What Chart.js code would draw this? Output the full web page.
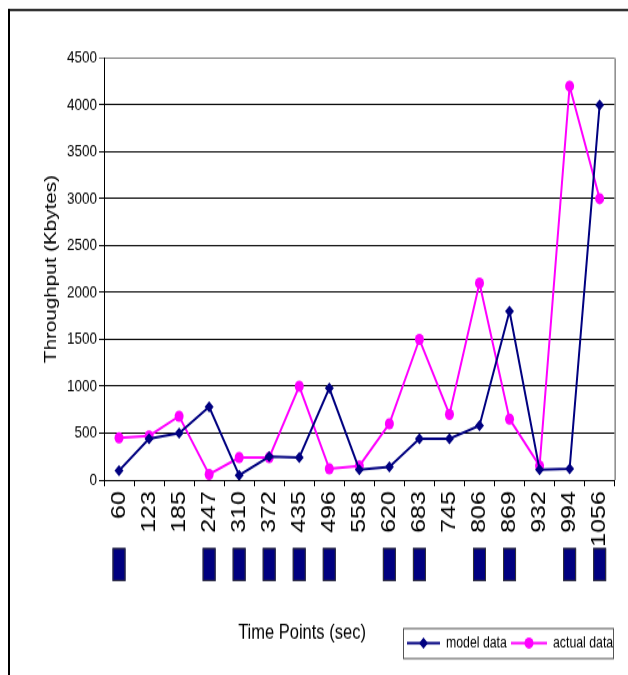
<!DOCTYPE html>
<html>
<head>
<meta charset="utf-8">
<title>Throughput over time</title>
<script src="https://cdn.jsdelivr.net/npm/chart.js@4/dist/chart.umd.min.js"></script>
<style>
  html, body { margin: 0; padding: 0; background: #fff; overflow: hidden; }
  #page { width: 628px; height: 675px; position: relative; overflow: hidden; }
  #stage { position: absolute; left: 0; top: 0; width: 628px; height: 540px; transform: scaleY(1.25); transform-origin: 0 0; }
  #chart { display: block; }
</style>
</head>
<body>
<div id="page"><div id="stage"><canvas id="chart" width="628" height="540"></canvas></div></div>
<script>
// Sample times (sec) along the x axis
const timePoints = ['60', '123', '185', '247', '310', '372', '435', '496', '558',
                    '620', '683', '745', '806', '869', '932', '994', '1056'];

// Throughput in Kbytes
const modelData  = [100, 440, 500, 780, 50, 250, 240, 980, 110,
                    140, 440, 440, 580, 1800, 110, 120, 4000];
const actualData = [450, 470, 680, 60, 240, 240, 1000, 120, 150,
                    600, 1500, 700, 2100, 650, 150, 4200, 3000];

// Time slots flagged with a block under the axis (1 = flagged)
const activeSlots = [1, 0, 0, 1, 1, 1, 1, 1, 0, 1, 1, 0, 1, 1, 0, 1, 1];

// Y axis range
const yMin = 0, yMax = 4500, yStep = 500;

const FONT = "'Liberation Sans', Arial, Helvetica, sans-serif";
const NAVY = '#000080';
const MAGENTA = '#FF00FF';

function drawMarker(ctx, style, color, x, y, r) {
  ctx.fillStyle = color;
  ctx.beginPath();
  if (style === 'rectRot') {
    ctx.moveTo(x - r, y); ctx.lineTo(x, y - r); ctx.lineTo(x + r, y); ctx.lineTo(x, y + r);
    ctx.closePath();
  } else {
    ctx.arc(x, y, r, 0, Math.PI * 2);
  }
  ctx.fill();
}

const decor = {
  id: 'decor',
  beforeDraw(chart) {
    const ctx = chart.ctx;
    ctx.save();
    ctx.fillStyle = '#fff';
    ctx.fillRect(0, 0, chart.width, chart.height);
    // page frame (top and left edges)
    ctx.fillStyle = '#000';
    ctx.fillRect(8, 7.2, chart.width, 1.6);
    ctx.fillRect(8, 7.2, 2, chart.height);
    ctx.restore();
  },
  afterDraw(chart) {
    const { ctx, chartArea } = chart;
    const xs = chart.scales.x;
    ctx.save();

    // right edge of the plot area
    ctx.strokeStyle = '#888';
    ctx.lineWidth = 1.5;
    ctx.beginPath();
    ctx.moveTo(chartArea.right + 0.5, chartArea.top);
    ctx.lineTo(chartArea.right + 0.5, chartArea.bottom);
    ctx.stroke();

    // flagged time slots
    const blockTop = chartArea.bottom + 54.4, blockH = 26.4, blockW = 13;
    activeSlots.forEach((on, i) => {
      if (!on) return;
      const cx = xs.getPixelForValue(i);
      ctx.fillStyle = NAVY;
      ctx.fillRect(cx - blockW / 2, blockTop, blockW, blockH);
      ctx.strokeStyle = '#333';
      ctx.lineWidth = 1;
      ctx.strokeRect(cx - blockW / 2 + 0.5, blockTop + 0.5, blockW - 1, blockH - 1);
    });

    // x axis title
    ctx.fillStyle = '#000';
    ctx.font = '16.5px ' + FONT;
    ctx.textAlign = 'center';
    ctx.textBaseline = 'middle';
    ctx.fillText('Time Points (sec)', 302, 506.4);

    // legend box
    const lx = 403, ly = 502.4, lw = 210, lh = 24, cy = ly + lh / 2;
    ctx.strokeStyle = '#555';
    ctx.lineWidth = 1;
    ctx.strokeRect(lx + 0.5, ly + 0.5, lw, lh);
    const items = [
      { x0: 407, x1: 440, tx: 446 },
      { x0: 511, x1: 547, tx: 553 }
    ];
    ctx.font = '12.3px ' + FONT;
    ctx.textAlign = 'left';
    chart.data.datasets.forEach((ds, i) => {
      const it = items[i];
      ctx.strokeStyle = ds.borderColor;
      ctx.lineWidth = 2;
      ctx.beginPath();
      ctx.moveTo(it.x0, cy); ctx.lineTo(it.x1, cy);
      ctx.stroke();
      drawMarker(ctx, ds.pointStyle, ds.borderColor, (it.x0 + it.x1) / 2, cy, ds.pointRadius);
      ctx.fillStyle = '#000';
      ctx.fillText(ds.label, it.tx, cy + 0.5);
    });

    ctx.restore();
  }
};

new Chart(document.getElementById('chart'), {
  type: 'line',
  data: {
    labels: timePoints,
    datasets: [
      {
        label: 'model data',
        data: modelData,
        borderColor: NAVY,
        backgroundColor: NAVY,
        borderWidth: 2,
        pointStyle: 'rectRot',
        pointRadius: 4.5,
        pointBorderWidth: 0,
        pointHoverRadius: 4.5,
        tension: 0,
        fill: false
      },
      {
        label: 'actual data',
        data: actualData,
        borderColor: MAGENTA,
        backgroundColor: MAGENTA,
        borderWidth: 2,
        pointStyle: 'circle',
        pointRadius: 4.5,
        pointBorderWidth: 0,
        pointHoverRadius: 4.5,
        tension: 0,
        fill: false
      }
    ]
  },
  options: {
    responsive: false,
    animation: false,
    devicePixelRatio: 1,
    events: [],
    layout: { padding: { top: 46.4, right: 12, left: 0, bottom: 0 } },
    plugins: {
      legend: { display: false },
      tooltip: { enabled: false },
      title: { display: false }
    },
    scales: {
      x: {
        offset: true,
        grid: {
          offset: true,
          drawOnChartArea: false,
          drawTicks: true,
          tickLength: 5,
          color: '#000',
          lineWidth: 1
        },
        border: { display: true, color: '#000', width: 1 },
        ticks: {
          color: '#000',
          font: { family: FONT, size: 20 },
          minRotation: 90,
          maxRotation: 90,
          autoSkip: false,
          padding: 4
        },
        afterFit(scale) { scale.height = 156; }
      },
      y: {
        min: yMin,
        max: yMax,
        grid: {
          color: (c) => (c.tick && c.tick.value === yMax ? '#808080' : '#000'),
          lineWidth: 1,
          tickLength: 5,
          drawTicks: true
        },
        border: { display: true, color: '#000', width: 1 },
        ticks: {
          stepSize: yStep,
          color: '#000',
          font: { family: FONT, size: 13.5 },
          padding: 2,
          callback: (v) => String(v)
        },
        title: {
          display: true,
          text: 'Throughput (Kbytes)',
          color: '#000',
          font: { family: FONT, size: 16.5 },
          padding: { top: 42, bottom: 0 }
        },
        afterFit(scale) { scale.width = 104; }
      }
    }
  },
  plugins: [decor]
});
</script>
</body>
</html>
